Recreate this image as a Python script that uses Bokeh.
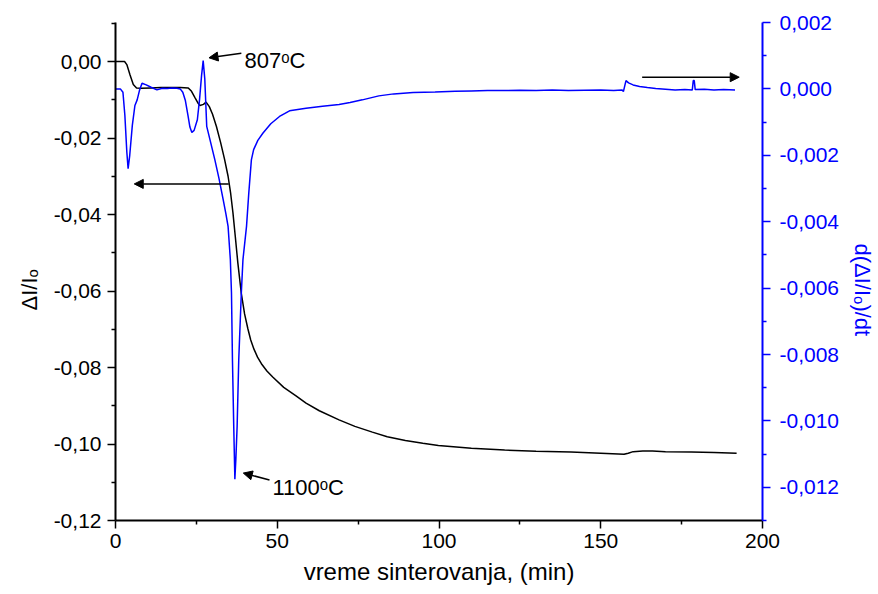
from bokeh.plotting import figure
from bokeh.models import (Range1d, LinearAxis, FixedTicker, CustomJSTickFormatter,
                          Arrow, NormalHead, Label)
from bokeh.embed import file_html
from bokeh.resources import INLINE

# ---- data ----
time_shrink = [0, 2.8, 3.5, 4.5, 5.5, 6.5, 8, 11, 14, 17, 20, 22.5, 23.5, 24.6, 25.6, 26.1,
               27.2, 28.0, 29.0, 30.0, 31.2, 32.5, 33.7, 34.8, 35.6, 36.3, 37.0, 37.8, 38.9,
               39.9, 40.9, 41.8, 42.8, 43.9, 45.1, 46.8, 48.6, 52, 55.8, 58.9, 63, 69.1, 74,
               79.4, 84, 89.6, 95, 99.8, 110, 120.3, 130, 140.8, 150, 157.2, 158.5, 160, 163,
               166, 170, 178, 185, 192]
shrinkage = [0.0, 0.0, -0.0008, -0.0035, -0.0060, -0.0069, -0.0070, -0.0069, -0.0068, -0.0068,
             -0.0068, -0.0069, -0.0078, -0.0095, -0.0110, -0.0115, -0.0112, -0.0106, -0.0118,
             -0.0138, -0.0170, -0.0212, -0.0255, -0.0300, -0.0345, -0.0395, -0.0455, -0.0525,
             -0.0607, -0.0660, -0.0698, -0.0728, -0.0752, -0.0773, -0.0790, -0.0809, -0.0825,
             -0.0852, -0.0874, -0.0893, -0.0913, -0.0937, -0.0954, -0.0969, -0.0981, -0.0991,
             -0.0998, -0.1004, -0.1011, -0.1016, -0.1019, -0.1021, -0.1024, -0.1027, -0.1024,
             -0.1020, -0.1018, -0.1018, -0.1020, -0.1021, -0.1022, -0.1024]

time_rate = [0, 1.5, 2.3, 2.9, 3.5, 3.9, 4.4, 5.2, 6.0, 6.7, 7.4, 8.2, 9.5, 11, 12.8, 14.5,
             16, 17.5, 19, 20.0, 20.8, 21.6, 22.4, 23.0, 23.6, 24.3, 25.3, 26.0, 26.6, 27.1,
             27.6, 28.2, 29.5, 30.7, 32.0, 33.3, 34.1, 34.8, 35.5, 35.85, 36.15, 36.55, 36.9,
             37.2, 37.6, 38.1, 38.9, 39.4, 40.5, 41.2, 42.0, 42.7, 44.0, 45.6, 48, 50.7, 53.8,
             58.9, 64, 69.1, 72.5, 76.3, 81.4, 86, 92, 98.8, 105, 110, 115, 120, 125, 130,
             135, 140, 145, 150, 154, 156.6, 157.0, 157.8, 158.6, 160, 162, 164.4, 167, 170,
             173, 176, 178.3, 178.6, 178.9, 179.2, 182, 185, 188, 191.5]
rate = [0.0, 0.0, -0.00010, -0.00080, -0.00190, -0.00240, -0.00200, -0.00110, -0.00050,
        -0.00033, -0.00005, 0.00017, 0.00012, 0.00005, -0.00003, 0.00002, 0.00001, 0.00003,
        0.00002, 0.00000, -0.00010, -0.00035, -0.00080, -0.00115, -0.00131, -0.00125,
        -0.00093, -0.00030, 0.00040, 0.00085, 0.00030, -0.00113, -0.00165, -0.00213,
        -0.00270, -0.00334, -0.00375, -0.00414, -0.00514, -0.00614, -0.00815, -0.01016,
        -0.01176, -0.01116, -0.01016, -0.00815, -0.00614, -0.00514, -0.00414, -0.00314,
        -0.00214, -0.00183, -0.00155, -0.00133, -0.00105, -0.00083, -0.00066, -0.00058,
        -0.00052, -0.00047, -0.00041, -0.00033, -0.00021, -0.00015, -0.00011, -0.00009,
        -0.00007, -0.00006, -0.00005, -0.00005, -0.00004, -0.00005, -0.00003, -0.00005,
        -0.00004, -0.00003, -0.00005, -0.00003, -0.00008, 0.00025, 0.00018, 0.00012,
        0.00007, 0.00004, 0.00001, -0.00001, -0.00003, -0.00002, -0.00003, 0.00025, 0.00025,
        -0.00002, -0.00001, -0.00003, -0.00002, -0.00003]

x_ticks = [0, 50, 100, 150, 200]
x_minor = [25, 75, 125, 175]
left_ticks = [-0.12, -0.10, -0.08, -0.06, -0.04, -0.02, 0.0]
left_minor = [-0.11, -0.09, -0.07, -0.05, -0.03, -0.01, 0.01]
right_ticks = [-0.012, -0.010, -0.008, -0.006, -0.004, -0.002, 0.0, 0.002]
right_minor = [-0.013, -0.011, -0.009, -0.007, -0.005, -0.003, -0.001, 0.001]

PAD = "\u00a0" * 6  # shifts the rotated side titles down along their axes
x_title = "vreme sinterovanja, (min)"
left_title = "ΔI/Iₒ" + PAD
right_title = PAD + "d(ΔI/Iₒ)/dt"
label_807 = "807ᵒC"
label_1100 = "1100ᵒC"

FONT = "Liberation Sans"
BLUE = "#0000ff"

p = figure(width=878, height=594, x_range=Range1d(0, 200), y_range=Range1d(-0.12, 0.0102),
           output_backend="svg", toolbar_location=None,
           x_axis_location=None, y_axis_location=None,
           min_border_left=115, min_border_right=112, min_border_top=22, min_border_bottom=74)
p.extra_y_ranges = {"rate": Range1d(-0.013, 0.002)}
p.outline_line_color = None
p.grid.visible = False
p.background_fill_color = "white"
p.border_fill_color = "white"


def fmt(d):
    return CustomJSTickFormatter(args=dict(d=d), code="""
        var v = Math.abs(tick) < 1e-12 ? 0 : tick;
        return v.toFixed(d).replace('.', ',');
    """)


def style(ax, color, title, title_size, standoff):
    ax.axis_line_color = color
    ax.axis_line_width = 2
    ax.major_tick_line_color = color
    ax.minor_tick_line_color = color
    ax.major_tick_line_width = 1.5
    ax.minor_tick_line_width = 1.5
    ax.major_tick_in = 0
    ax.major_tick_out = 8
    ax.minor_tick_in = 0
    ax.minor_tick_out = 4
    ax.major_label_text_font = FONT
    ax.major_label_text_font_size = "21px"
    ax.major_label_text_color = color
    ax.axis_label = title
    ax.axis_label_text_font = FONT
    ax.axis_label_text_font_size = title_size
    ax.axis_label_text_font_style = "normal"
    ax.axis_label_text_color = color
    ax.axis_label_standoff = standoff


xaxis = LinearAxis(ticker=FixedTicker(ticks=x_ticks, minor_ticks=x_minor), formatter=fmt(0))
style(xaxis, "black", x_title, "24px", 7)
xaxis.major_label_standoff = 5
p.add_layout(xaxis, "below")

yaxis = LinearAxis(ticker=FixedTicker(ticks=left_ticks, minor_ticks=left_minor), formatter=fmt(2))
style(yaxis, "black", left_title, "22px", 9)
yaxis.major_label_standoff = 6
p.add_layout(yaxis, "left")

raxis = LinearAxis(y_range_name="rate", ticker=FixedTicker(ticks=right_ticks, minor_ticks=right_minor),
                   formatter=fmt(3))
style(raxis, BLUE, right_title, "22px", 8)
raxis.major_label_standoff = 9
p.add_layout(raxis, "right")

p.line(time_shrink, shrinkage, line_color="black", line_width=1.5)
p.line(time_rate, rate, line_color=BLUE, line_width=1.5, y_range_name="rate")


def arrow(x0, y0, x1, y1):
    p.add_layout(Arrow(end=NormalHead(size=9, fill_color="black", line_color="black", line_width=1),
                       x_start=x0, y_start=y0, x_end=x1, y_end=y1,
                       line_color="black", line_width=1.5))


arrow(35.0, -0.0320, 5.8, -0.0320)
arrow(162.8, -0.0041, 192.8, -0.0041)
arrow(38.9, 0.00217, 28.9, 0.00097)
arrow(47.6, -0.1094, 39.5, -0.1076)

p.add_layout(Label(x=39.9, y=0.0003, text=label_807, text_font=FONT, text_font_size="22px",
                   text_baseline="alphabetic", text_color="black"))
p.add_layout(Label(x=48.5, y=-0.1115, text=label_1100, text_font=FONT, text_font_size="22px",
                   text_baseline="alphabetic", text_color="black"))

open("out.html", "w").write(file_html(p, INLINE))
